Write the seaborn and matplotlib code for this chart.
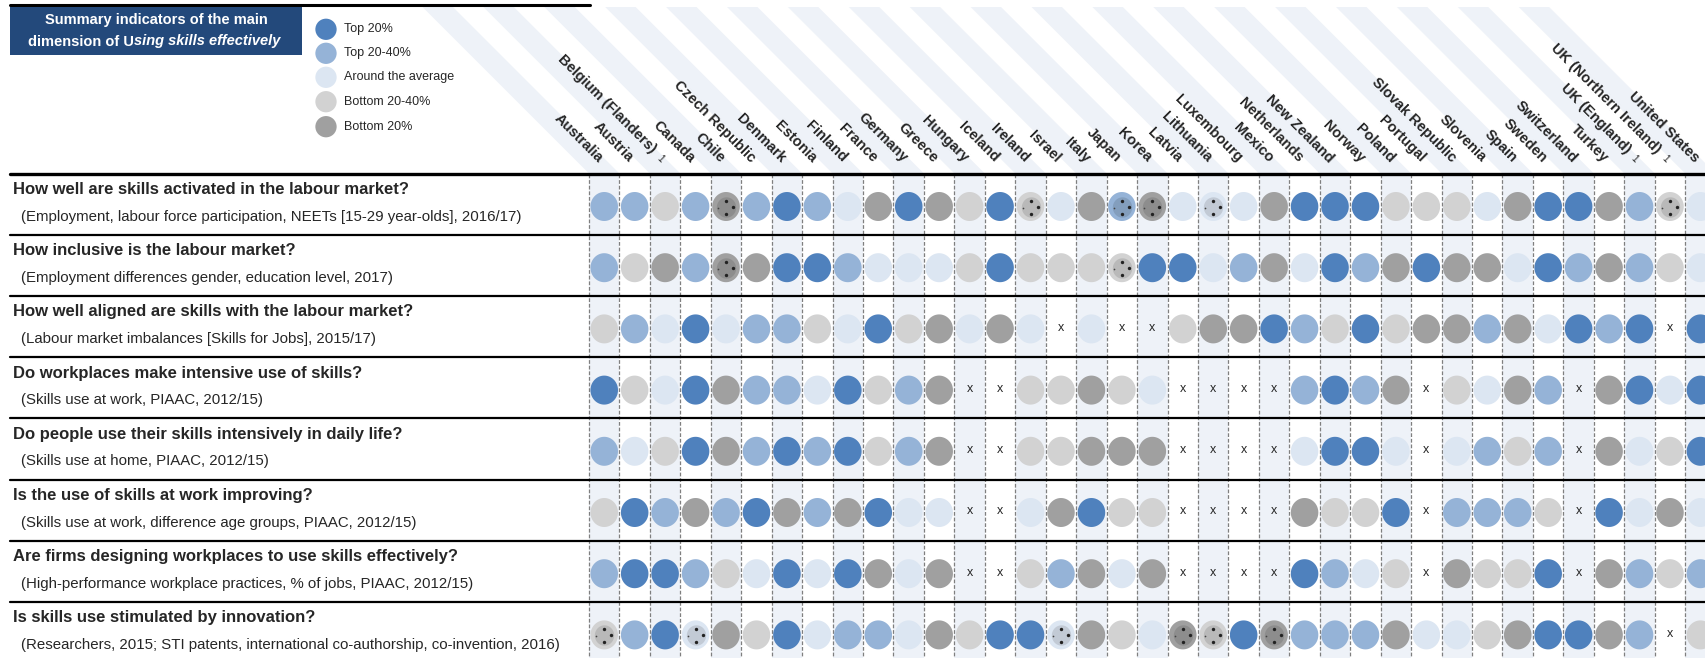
import numpy as np
import pandas as pd
import seaborn as sns
import matplotlib.pyplot as plt
from matplotlib.path import Path
from matplotlib.patches import Polygon, Rectangle

sns.set_style("white")
plt.rcParams["font.family"] = ["Liberation Sans", "DejaVu Sans"]

# ---- data ----
countries = ["Australia", "Austria", "Belgium (Flanders)", "Canada", "Chile",
             "Czech Republic", "Denmark", "Estonia", "Finland", "France",
             "Germany", "Greece", "Hungary", "Iceland", "Ireland", "Israel",
             "Italy", "Japan", "Korea", "Latvia", "Lithuania", "Luxembourg",
             "Mexico", "Netherlands", "New Zealand", "Norway", "Poland",
             "Portugal", "Slovak Republic", "Slovenia", "Spain", "Sweden",
             "Switzerland", "Turkey", "UK (England)", "UK (Northern Ireland)",
             "United States"]
footnoted = ["Belgium (Flanders)", "UK (England)", "UK (Northern Ireland)"]

questions = ["How well are skills activated in the labour market?",
             "How inclusive is the labour market?",
             "How well aligned are skills with the labour market?",
             "Do workplaces make intensive use of skills?",
             "Do people use their skills intensively in daily life?",
             "Is the use of skills at work improving?",
             "Are firms designing workplaces to use skills effectively?",
             "Is skills use stimulated by innovation?"]
subtitles = ["(Employment, labour force participation, NEETs [15-29 year-olds], 2016/17)",
             "(Employment differences gender, education level, 2017)",
             "(Labour market imbalances [Skills for Jobs], 2015/17)",
             "(Skills use at work, PIAAC, 2012/15)",
             "(Skills use at home, PIAAC, 2012/15)",
             "(Skills use at work, difference age groups, PIAAC, 2012/15)",
             "(High-performance workplace practices, % of jobs, PIAAC, 2012/15)",
             "(Researchers, 2015; STI patents, international co-authorship, co-invention, 2016)"]

levels = ["Top 20%", "Top 20-40%", "Around the average", "Bottom 20-40%", "Bottom 20%"]
codes = ["T1", "T2", "AV", "B2", "B1"]
level_colors = ["#4F81BD", "#95B3D7", "#DCE6F2", "#D2D2D2", "#A0A0A0"]

# T1..B1 = quintile group, "*" = dotted marker, "x" = no data
row1 = ["T2", "T2", "B2", "T2", "B1*", "T2", "T1", "T2", "AV", "B1", "T1", "B1", "B2", "T1", "B2*", "AV", "B1", "T2*",
        "B1*", "AV", "AV*", "AV", "B1", "T1", "T1", "T1", "B2", "B2", "B2", "AV", "B1", "T1", "T1", "B1", "T2", "B2*", "AV"]
row2 = ["T2", "B2", "B1", "T2", "B1*", "B1", "T1", "T1", "T2", "AV", "AV", "AV", "B2", "T1", "B2", "B2", "B2", "B2*",
        "T1", "T1", "AV", "T2", "B1", "AV", "T1", "T2", "B1", "T1", "B1", "B1", "AV", "T1", "T2", "B1", "T2", "B2", "AV"]
row3 = ["B2", "T2", "AV", "T1", "AV", "T2", "T2", "B2", "AV", "T1", "B2", "B1", "AV", "B1", "AV", "x", "AV", "x",
        "x", "B2", "B1", "B1", "T1", "T2", "B2", "T1", "B2", "B1", "B1", "T2", "B1", "AV", "T1", "T2", "T1", "x", "T1"]
row4 = ["T1", "B2", "AV", "T1", "B1", "T2", "T2", "AV", "T1", "B2", "T2", "B1", "x", "x", "B2", "B2", "B1", "B2",
        "AV", "x", "x", "x", "x", "T2", "T1", "T2", "B1", "x", "B2", "AV", "B1", "T2", "x", "B1", "T1", "AV", "T1"]
row5 = ["T2", "AV", "B2", "T1", "B1", "T2", "T1", "T2", "T1", "B2", "T2", "B1", "x", "x", "B2", "B2", "B1", "B1",
        "B1", "x", "x", "x", "x", "AV", "T1", "T1", "AV", "x", "AV", "T2", "B2", "T2", "x", "B1", "AV", "B2", "T1"]
row6 = ["B2", "T1", "T2", "B1", "T2", "T1", "B1", "T2", "B1", "T1", "AV", "AV", "x", "x", "AV", "B1", "T1", "B2",
        "B2", "x", "x", "x", "x", "B1", "B2", "B2", "T1", "x", "T2", "T2", "T2", "B2", "x", "T1", "AV", "B1", "AV"]
row7 = ["T2", "T1", "T1", "T2", "B2", "AV", "T1", "AV", "T1", "B1", "AV", "B1", "x", "x", "B2", "T2", "B1", "AV",
        "B1", "x", "x", "x", "x", "T1", "T2", "AV", "B2", "x", "B1", "B2", "B2", "T1", "x", "B1", "T2", "B2", "T2"]
row8 = ["B2*", "T2", "T1", "AV*", "B1", "B2", "T1", "AV", "T2", "T2", "AV", "B1", "B2", "T1", "T1", "AV*", "B1", "B2",
        "AV", "B1*", "B2*", "T1", "B1*", "T2", "T2", "T2", "B1", "AV", "AV", "B2", "B1", "T1", "T1", "B1", "T2", "x", "B2"]
grid = [row1, row2, row3, row4, row5, row6, row7, row8]

# ---- layout (pixel coordinates) ----
W, H = 1706, 658
X0, CW = 589.0, 30.45
Y_HEAD, RH = 173.5, 61.2
TOP = 7.0

fig = plt.figure(figsize=(W / 100, H / 100), dpi=100)
ax = fig.add_axes([0, 0, 1, 1])
ax.set_xlim(0, W)
ax.set_ylim(H, 0)
ax.axis("off")

ncol = len(countries)
xl = X0 + np.arange(ncol + 1) * CW

# column shading and diagonal header stripes
for i in range(0, ncol, 2):
    ax.add_patch(Rectangle((xl[i], Y_HEAD), CW, H - Y_HEAD, color="#EEF2F8", lw=0, zorder=0))
    d = Y_HEAD - TOP
    ax.add_patch(Polygon([(xl[i], Y_HEAD), (xl[i + 1], Y_HEAD), (xl[i + 1] - d, TOP), (xl[i] - d, TOP)],
                         closed=True, color="#EEF2F8", lw=0, zorder=0))
for x in xl:
    ax.plot([x, x], [Y_HEAD, H], color="#7F7F7F", lw=0.9, ls=(0, (3, 1.5)), zorder=1)

# horizontal rules
ax.plot([10, 590], [5, 5], color="black", lw=2.2, zorder=2)
ax.plot([10, W], [Y_HEAD, Y_HEAD], color="black", lw=2.4, zorder=2)
for r in range(1, len(grid)):
    y = Y_HEAD + r * RH
    ax.plot([10, W], [y, y], color="black", lw=1.6, zorder=2)

# title box
ax.add_patch(Rectangle((9.6, 7.3), 292, 47.7, color="#23497B", lw=0, zorder=2))
ax.text(156, 20, "Summary indicators of the main", color="white", fontsize=10.5,
        fontweight="bold", ha="center", va="center", zorder=3)
ax.text(134, 41.5, "dimension of U", color="white", fontsize=10.5,
        fontweight="bold", ha="right", va="center", zorder=3)
ax.text(134.5, 41.5, "sing skills effectively", color="white", fontsize=10.5,
        fontweight="bold", fontstyle="italic", ha="left", va="center", zorder=3)

# legend
leg_y = [29.3, 53.3, 77.3, 101.7, 126.7]
leg_df = pd.DataFrame({"x": [326] * 5, "y": leg_y, "level": levels})
sns.scatterplot(data=leg_df, x="x", y="y", hue="level", hue_order=levels, palette=level_colors,
                s=235, linewidth=0, legend=False, ax=ax, zorder=3)
for y, lab in zip(leg_y, levels):
    ax.text(344, y, lab, fontsize=9, ha="left", va="center")

# country labels
for i, name in enumerate(countries):
    if name in footnoted:
        ax.text(xl[i] + 1, 154, name, rotation=-45, rotation_mode="anchor", ha="right",
                va="baseline", fontsize=10.5, fontweight="bold")
        ax.text(xl[i] + 10, 163, "1", rotation=-45, rotation_mode="anchor", ha="right",
                va="baseline", fontsize=7)
    else:
        ax.text(xl[i] + 9, 163, name, rotation=-45, rotation_mode="anchor", ha="right",
                va="baseline", fontsize=10.5, fontweight="bold")

# row texts
for r, (q, s) in enumerate(zip(questions, subtitles)):
    top = Y_HEAD + r * RH
    ax.text(13.4, top + 16, q, fontsize=12, fontweight="bold", ha="left", va="center")
    ax.text(21, top + 43, s, fontsize=10.8, ha="left", va="center")

# circles
recs = []
for r, row in enumerate(grid):
    for i, c in enumerate(row):
        recs.append({"x": (xl[i] + xl[i + 1]) / 2, "y": Y_HEAD + r * RH + 33,
                     "code": c.rstrip("*"), "dotted": c.endswith("*")})
df = pd.DataFrame(recs)
pts = df[df["code"] != "x"].copy()
pts["level"] = pts["code"].map(dict(zip(codes, levels)))

t = np.linspace(0, 2 * np.pi, 60)
ell = Path(np.column_stack([0.475 * np.cos(t), 0.5 * np.sin(t)]), closed=True)
sns.scatterplot(data=pts, x="x", y="y", hue="level", hue_order=levels, palette=level_colors,
                s=436, marker=ell, linewidth=0, legend=False, ax=ax, zorder=3)

# dotted markers: darker core plus small dots
dot = pts[pts["dotted"]]
for _, p in dot.iterrows():
    base = np.array(plt.matplotlib.colors.to_rgb(level_colors[levels.index(p["level"])]))
    ax.scatter(p["x"], p["y"], s=215, marker=ell, color=base * 0.88, lw=0, zorder=4)
    ax.scatter([p["x"], p["x"], p["x"] + 7], [p["y"] - 6, p["y"] + 7, p["y"]],
               s=6, color="#222222", lw=0, zorder=5)
    ax.scatter([p["x"] - 8], [p["y"] + 1], s=1.5, color="#444444", lw=0, zorder=5)

miss = df[df["code"] == "x"]
for _, p in miss.iterrows():
    ax.text(p["x"], p["y"] - 1, "x", fontsize=9, ha="center", va="center", zorder=4)

fig.savefig("out.png", dpi=100)
